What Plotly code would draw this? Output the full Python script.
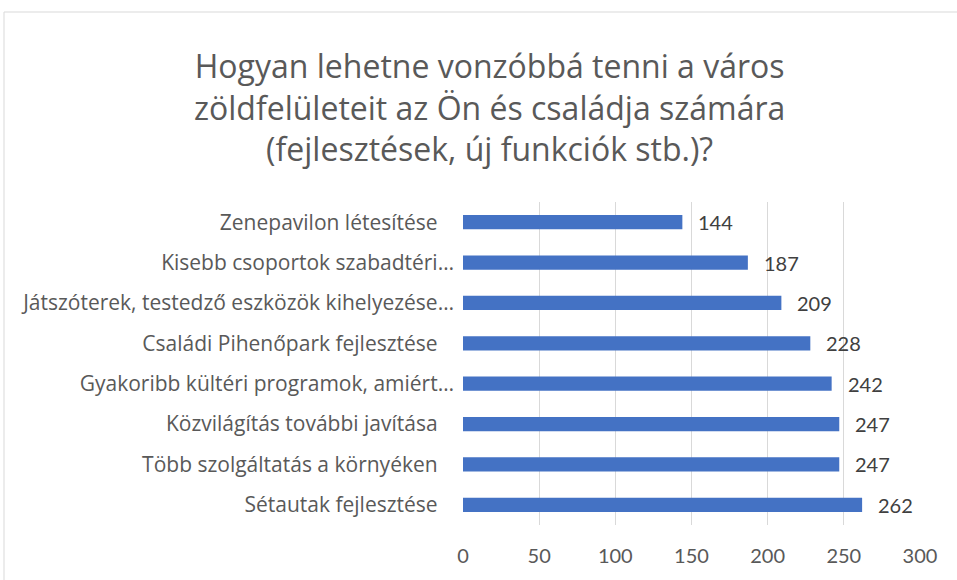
import plotly.graph_objects as go

# Survey answers, listed top to bottom as shown
categories = [
    "Zenepavilon létesítése",
    "Kisebb csoportok szabadtéri…",
    "Játszóterek, testedző eszközök kihelyezése…",
    "Családi Pihenőpark fejlesztése",
    "Gyakoribb kültéri programok, amiért…",
    "Közvilágítás további javítása",
    "Több szolgáltatás a környéken",
    "Sétautak fejlesztése",
]
counts = [144, 187, 209, 228, 242, 247, 247, 262]
x_ticks = [0, 50, 100, 150, 200, 250, 300]

W, H = 957, 580
L, R, T, B = 463, 37, 202, 55
FONT = "Lato, 'Open Sans', sans-serif"
LABEL_FONT = "'Open Sans', sans-serif"
GREY = "#595959"

# truncated labels sit a bit further right than the full ones
tick_text = [c if c.endswith("…") else c + "\u00a0\u00a0\u00a0" for c in categories]

fig = go.Figure(
    go.Bar(
        x=counts,
        y=categories,
        orientation="h",
        marker=dict(color="#4472C4", line=dict(width=0)),
        width=0.35,
        hoverinfo="x+y",
    )
)

for c, v in zip(categories, counts):
    fig.add_annotation(
        x=v, y=c, text=str(v), showarrow=False, xanchor="left", xshift=14,
        font=dict(family=FONT, size=20, color="#404040"),
    )

pw, ph = W - L - R, H - T - B


def px_x(p):
    return (p - L) / pw


def px_y(p):
    return (H - B - p) / ph


# light frame around the chart
fig.add_shape(
    type="rect", xref="paper", yref="paper",
    x0=px_x(4), x1=px_x(962), y0=px_y(12), y1=px_y(590),
    line=dict(color="#D9D9D9", width=1), fillcolor="rgba(0,0,0,0)", layer="below",
)

fig.add_annotation(
    xref="paper", yref="paper", x=px_x(489), y=px_y(107),
    xanchor="center", yanchor="middle",
    text="Hogyan lehetne vonzóbbá tenni a város<br>zöldfelületeit az Ön és családja számára<br>(fejlesztések, új funkciók stb.)?",
    showarrow=False, align="center",
    font=dict(family=LABEL_FONT, size=32, color=GREY),
)

fig.update_layout(
    width=W, height=H,
    margin=dict(l=L, r=R, t=T, b=B, pad=0),
    paper_bgcolor="white", plot_bgcolor="white",
    showlegend=False,
    font=dict(family=FONT, color=GREY),
    xaxis=dict(
        range=[0, 300], tickvals=x_ticks, ticktext=[str(t) for t in x_ticks],
        showgrid=True, gridcolor="#D9D9D9", gridwidth=1,
        zeroline=False, showline=False, ticks="",
        tickfont=dict(family=FONT, size=20, color=GREY),
        ticklabelstandoff=17, fixedrange=True,
    ),
    yaxis=dict(
        autorange="reversed", tickvals=categories, ticktext=tick_text,
        showgrid=False, zeroline=False, showline=False, ticks="",
        tickfont=dict(family=LABEL_FONT, size=21, color=GREY),
        ticklabelstandoff=8, fixedrange=True,
    ),
)

fig.write_html("out.html")
